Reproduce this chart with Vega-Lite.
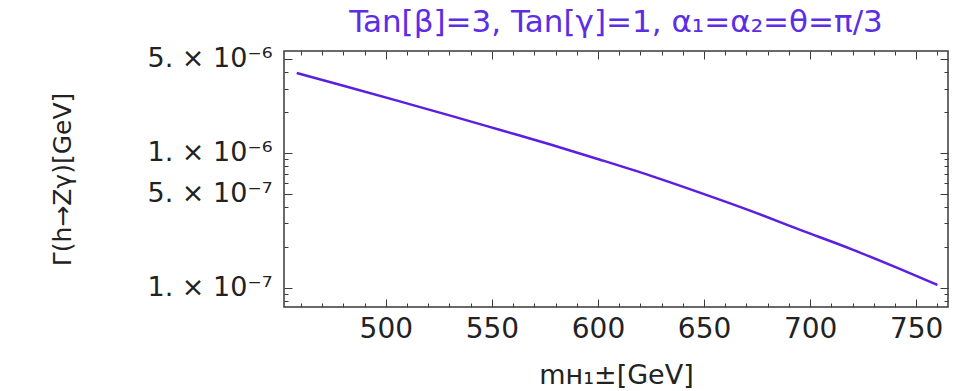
{
  "$schema": "https://vega.github.io/schema/vega-lite/v6.json",
  "width": 664,
  "height": 256,
  "autosize": "none",
  "padding": {"left": 284, "top": 51, "right": 13, "bottom": 84},
  "background": "white",
  "title": {
    "text": "Tan[β]=3,  Tan[γ]=1, α₁=α₂=θ=π/3",
    "color": "#5b2ee6",
    "fontSize": 31,
    "font": "DejaVu Sans",
    "fontWeight": "normal",
    "anchor": "middle",
    "baseline": "bottom",
    "offset": -25
  },
  "data": {
    "values": [
      {"m": 458, "gamma": 3.92e-6},
      {"m": 480, "gamma": 3.15e-6},
      {"m": 507, "gamma": 2.40e-6},
      {"m": 530, "gamma": 1.90e-6},
      {"m": 554, "gamma": 1.479e-6},
      {"m": 578, "gamma": 1.15e-6},
      {"m": 601, "gamma": 8.91e-7},
      {"m": 625, "gamma": 6.76e-7},
      {"m": 648, "gamma": 5.08e-7},
      {"m": 672, "gamma": 3.72e-7},
      {"m": 695, "gamma": 2.70e-7},
      {"m": 720, "gamma": 1.92e-7},
      {"m": 742, "gamma": 1.385e-7},
      {"m": 760, "gamma": 1.05e-7}
    ]
  },
  "layer": [
    {
      "mark": {"type": "line", "opacity": 0},
      "encoding": {
        "x": {"field": "m", "type": "quantitative", "scale": {"domain": [452, 765], "nice": false, "zero": false},
          "axis": {"orient": "bottom", "values": [460,470,480,490,510,520,530,540,560,570,580,590,610,620,630,640,660,670,680,690,710,720,730,740,760], "tickSize": -4, "labels": false, "title": null, "domain": false, "grid": false}},
        "y": {"field": "gamma", "type": "quantitative", "scale": {"type": "log", "domain": [7.2e-8, 5.7e-6], "nice": false},
          "axis": {"orient": "left", "values": [8e-8, 9e-8, 2e-7, 3e-7, 4e-7, 6e-7, 7e-7, 8e-7, 9e-7, 2e-6, 3e-6, 4e-6], "tickSize": -4, "labels": false, "title": null, "domain": false, "grid": false}}
      }
    },
    {
      "mark": {"type": "line", "opacity": 0},
      "encoding": {
        "x": {"field": "m", "type": "quantitative", "scale": {"domain": [452, 765], "nice": false, "zero": false},
          "axis": {"orient": "top", "values": [460,470,480,490,510,520,530,540,560,570,580,590,610,620,630,640,660,670,680,690,710,720,730,740,760], "tickSize": -4, "labels": false, "title": null, "domain": false, "grid": false}},
        "y": {"field": "gamma", "type": "quantitative", "scale": {"type": "log", "domain": [7.2e-8, 5.7e-6], "nice": false},
          "axis": {"orient": "right", "values": [8e-8, 9e-8, 2e-7, 3e-7, 4e-7, 6e-7, 7e-7, 8e-7, 9e-7, 2e-6, 3e-6, 4e-6], "tickSize": -4, "labels": false, "title": null, "domain": false, "grid": false}}
      }
    },
    {
      "mark": {"type": "line", "opacity": 0},
      "encoding": {
        "x": {"field": "m", "type": "quantitative", "scale": {"domain": [452, 765], "nice": false, "zero": false},
          "axis": {"orient": "top", "values": [500, 550, 600, 650, 700, 750], "tickSize": -8, "labels": false, "title": null, "domain": false, "grid": false}},
        "y": {"field": "gamma", "type": "quantitative", "scale": {"type": "log", "domain": [7.2e-8, 5.7e-6], "nice": false},
          "axis": {"orient": "right", "values": [1e-7, 5e-7, 1e-6, 5e-6], "tickSize": -8, "labels": false, "title": null, "domain": false, "grid": false}}
      }
    },
    {
      "mark": {"type": "line", "color": "#5a1fe0", "strokeWidth": 2.5, "interpolate": "monotone"},
      "encoding": {
        "x": {"field": "m", "type": "quantitative", "scale": {"domain": [452, 765], "nice": false, "zero": false},
          "axis": {"orient": "bottom", "values": [500, 550, 600, 650, 700, 750], "tickSize": -8, "labelPadding": 16, "labelFontSize": 28, "labelOverlap": false, "labelFlush": false, "domain": false, "grid": false,
            "title": "mʜ₁±[GeV]", "titleFontSize": 27, "titleFontWeight": "normal", "titleX": 332, "titleY": 76, "titleBaseline": "alphabetic", "titleAlign": "center"}},
        "y": {"field": "gamma", "type": "quantitative", "scale": {"type": "log", "domain": [7.2e-8, 5.7e-6], "nice": false},
          "axis": {"orient": "left", "values": [1e-7, 5e-7, 1e-6, 5e-6], "tickSize": -8, "labelPadding": 20, "labelFontSize": 27, "labelOverlap": false, "labelFlush": false, "domain": false, "grid": false,
            "labelExpr": "datum.value < 2e-7 ? '1. × 10⁻⁷' : datum.value < 7e-7 ? '5. × 10⁻⁷' : datum.value < 2e-6 ? '1. × 10⁻⁶' : '5. × 10⁻⁶'",
            "title": "Γ(h→Zγ)[GeV]", "titleFontSize": 25, "titleFontWeight": "normal", "titleX": -222, "titleY": 128, "titleAngle": -90, "titleBaseline": "middle", "titleAlign": "center"}}
      }
    }
  ],
  "resolve": {"axis": {"x": "independent", "y": "independent"}},
  "config": {
    "view": {"stroke": "#3a3a3a", "strokeWidth": 1.5},
    "axis": {"tickColor": "#3a3a3a", "tickWidth": 1, "labelFont": "DejaVu Sans", "titleFont": "DejaVu Sans", "labelColor": "#222222", "titleColor": "#222222"}
  }
}
